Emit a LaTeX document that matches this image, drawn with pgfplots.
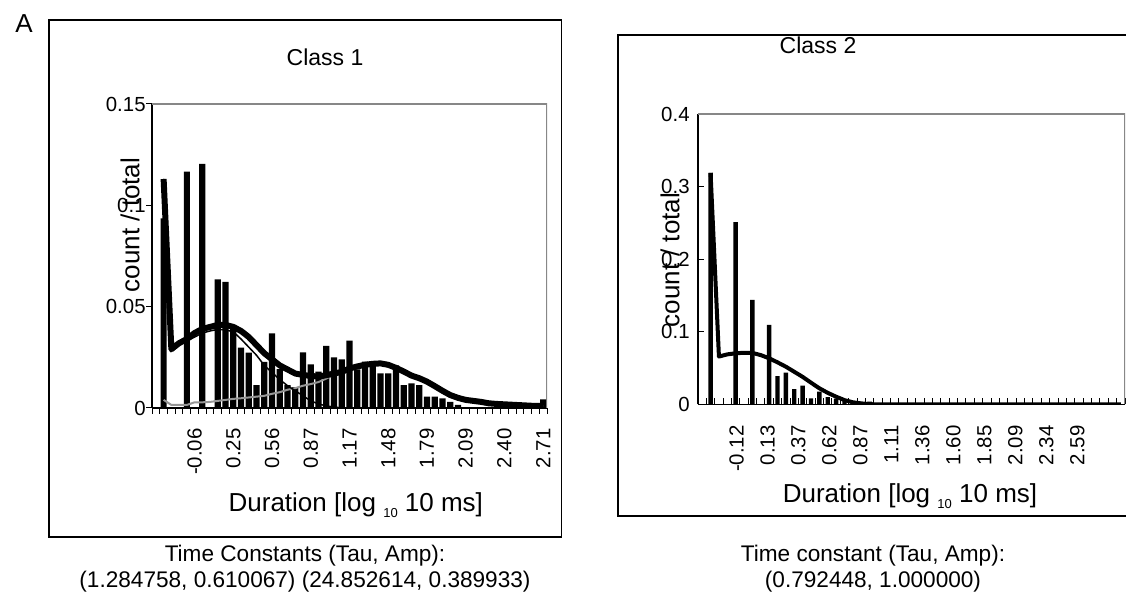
\documentclass[border=0pt]{standalone}
\usepackage{fontspec}
\setmainfont{Liberation Sans}
\usepackage{pgfplots}
\pgfplotsset{compat=1.18}
\definecolor{gline}{RGB}{150,150,150}
\definecolor{gborder}{RGB}{135,135,135}
\newcommand{\ticksz}{\fontsize{10.2}{11}\selectfont}
\newcommand{\labsz}{\fontsize{13}{15}\selectfont}
\newcommand{\capsz}{\fontsize{11.3}{13}\selectfont}
\newcommand{\sub}[1]{\raisebox{-3pt}{\fontsize{6.5}{7}\selectfont #1}}
\begin{document}
\begin{tikzpicture}
\useasboundingbox (0,0) rectangle (563pt,306.5pt);
% outer frames
\draw[line width=0.6pt] (24.5pt,296.5pt) rectangle (280.75pt,38pt);
\draw[line width=0.6pt] (600pt,289pt) -- (309pt,289pt) -- (309pt,48.5pt) -- (600pt,48.5pt);
\node[font=\fontsize{13}{15}\selectfont] at (12pt,294.5pt) {A};

% ---------------- Class 1 ----------------
\begin{axis}[
  anchor=south west, at={(76pt,102.5pt)},
  scale only axis, width=197.5pt, height=152pt,
  xmin=-0.5, xmax=50.5, ymin=0, ymax=0.15,
  axis x line*=bottom, axis y line*=left,
  axis line style={black, line width=0.6pt},
  xtick={5,10,...,50},
  xticklabels={-0.06,0.25,0.56,0.87,1.17,1.48,1.79,2.09,2.40,2.71},
  minor xtick={-0.5,0.5,...,50.5},
  ytick={0,0.05,0.1,0.15},
  yticklabels={0,0.05,0.1,0.15},
  minor ytick={0,0.05,0.1,0.15},
  major tick length=0pt, minor tick length=3pt,
  tick align=outside,
  tick style={black, line width=0.5pt},
  /pgf/number format/assume math mode=true,
  xticklabel style={yshift=-10pt, rotate=90, anchor=east, inner sep=0pt, font=\ticksz},
  yticklabel style={anchor=east, inner sep=0pt, xshift=-3pt, font=\ticksz},
  title={Class 1},
  title style={at={(axis description cs:0.438,1.115)}, anchor=center, font=\fontsize{11.5}{13}\selectfont},
  xlabel={Duration [log \sub{10} 10 ms]},
  xlabel style={at={(axis description cs:0.516,-0.342)}, anchor=base, font=\labsz},
  ylabel={count / total},
  ylabel style={at={(axis description cs:-0.0557,0.602)}, anchor=center, font=\labsz},
]
\draw[gborder, line width=0.8pt] (rel axis cs:0,1) -- (rel axis cs:1,1) -- (rel axis cs:1,0);
\addplot[ybar, bar width=3.1pt, fill=black, draw=none] coordinates {
(1,0.0936) (4,0.1166) (6,0.1204) (8,0.0635) (9,0.0622) (10,0.041) (11,0.0298)
(12,0.0273) (13,0.0113) (14,0.0228) (15,0.0368) (16,0.0192) (17,0.0113) (18,0.0103)
(19,0.0274) (20,0.0215) (21,0.018) (22,0.0307) (23,0.025) (24,0.024) (25,0.0332)
(26,0.019) (27,0.0229) (28,0.0229) (29,0.0171) (30,0.0171) (31,0.021) (32,0.0113)
(33,0.0122) (34,0.0113) (35,0.0056) (36,0.0056) (37,0.0048) (38,0.003) (39,0.0015)
(50,0.0043)};
% second component (grey)
\addplot[gline, line width=1pt] coordinates {
(1,0.004) (2,0.0015) (3,0.0015) (4,0.0015) (5,0.0028) (6,0.0028) (7,0.003) (8,0.0035)
(9,0.004) (10,0.0045) (11,0.0048) (12,0.0052) (13,0.0056) (14,0.006) (15,0.007)
(16,0.0078) (17,0.009) (18,0.0098) (19,0.011) (20,0.0118) (21,0.0128) (22,0.0145)
(23,0.0165) (24,0.0175) (25,0.0192) (26,0.0203) (27,0.0212) (28,0.0217) (29,0.0219)
(30,0.0212) (31,0.0197) (32,0.0179) (33,0.016) (34,0.0146) (35,0.0129) (36,0.0107)
(37,0.0084) (38,0.0063) (39,0.0049) (40,0.0039) (41,0.0034) (42,0.0029) (43,0.0022)
(44,0.0019) (45,0.0017) (46,0.0015) (47,0.0013) (48,0.0011) (49,0.001) (50,0.001)};
% first component (thin black)
\addplot[black, line width=0.75pt] coordinates {
(1,0.113) (2,0.028) (3,0.031) (4,0.033) (5,0.035) (6,0.037) (7,0.038) (8,0.0388)
(9,0.0385) (10,0.0376) (11,0.034) (12,0.030) (13,0.026) (14,0.021) (15,0.0175)
(16,0.014) (17,0.011) (18,0.0085) (19,0.006) (20,0.0035) (21,0.002) (22,0.001)
(23,0.0005) (24,0) (25,0)};
% total fit (thick black)
\addplot[black, line width=3pt, line join=round] coordinates {
(1,0.113) (2,0.029) (3,0.032) (4,0.034) (5,0.037) (6,0.039) (7,0.040) (8,0.041)
(9,0.041) (10,0.040) (11,0.038) (12,0.035) (13,0.031) (14,0.027) (15,0.024)
(16,0.021) (17,0.019) (18,0.017) (19,0.0163) (20,0.0158) (21,0.0155) (22,0.0162)
(23,0.017) (24,0.0178) (25,0.0195) (26,0.0205) (27,0.0213) (28,0.0218) (29,0.022)
(30,0.0213) (31,0.0198) (32,0.018) (33,0.016) (34,0.0147) (35,0.013) (36,0.0108)
(37,0.0085) (38,0.0064) (39,0.005) (40,0.004) (41,0.0035) (42,0.003) (43,0.0023)
(44,0.002) (45,0.0018) (46,0.0016) (47,0.0014) (48,0.0012) (49,0.001) (50,0.001)};
\end{axis}

% ---------------- Class 2 ----------------
\begin{axis}[
  anchor=south west, at={(349pt,104.25pt)},
  scale only axis, width=213.5pt, height=145.25pt,
  xmin=-0.5, xmax=50.5, ymin=0, ymax=0.4,
  axis x line*=bottom, axis y line*=left,
  axis line style={black, line width=0.6pt},
  xtick={4.1,7.8,11.5,15.2,18.9,22.6,26.3,30.0,33.7,37.4,41.1,44.8},
  xticklabels={-0.12,0.13,0.37,0.62,0.87,1.11,1.36,1.60,1.85,2.09,2.34,2.59},
  minor xtick={-0.5,0.5,...,50.5},
  ytick={0,0.1,0.2,0.3,0.4},
  yticklabels={0,0.1,0.2,0.3,0.4},
  minor ytick={0,0.1,0.2,0.3,0.4},
  major tick length=0pt, minor tick length=3pt,
  tick align=inside,
  tick style={black, line width=0.5pt},
  /pgf/number format/assume math mode=true,
  xticklabel style={yshift=-10.25pt, rotate=90, anchor=east, inner sep=0pt, font=\ticksz},
  yticklabel style={anchor=east, inner sep=0pt, xshift=-4pt, font=\ticksz},
  title={Class 2},
  title style={at={(axis description cs:0.281,1.196)}, anchor=center, font=\fontsize{11.5}{13}\selectfont},
  xlabel={Duration [log \sub{10} 10 ms]},
  xlabel style={at={(axis description cs:0.4965,-0.337)}, anchor=base, font=\labsz},
  ylabel={count / total},
  ylabel style={at={(axis description cs:-0.0656,0.497)}, anchor=center, font=\labsz},
]
\draw[gborder, line width=0.8pt] (rel axis cs:0,1) -- (rel axis cs:1,1) -- (rel axis cs:1,0);
\addplot[ybar, bar width=2.2pt, fill=black, draw=none] coordinates {
(1,0.319) (4,0.251) (6,0.144) (8,0.1095) (9,0.039) (10,0.0438) (11,0.021) (12,0.026)
(13,0.0085) (14,0.0176) (15,0.010) (16,0.008) (17,0.005) (18,0.003) (20,0.004)};
\addplot[black, line width=2pt, line join=round] coordinates {
(1,0.319) (2,0.066) (3,0.069) (4,0.0705) (5,0.0712) (6,0.071) (7,0.068) (8,0.0636)
(9,0.058) (10,0.052) (11,0.045) (12,0.038) (13,0.030) (14,0.0223) (15,0.016)
(16,0.0107) (17,0.006) (18,0.003) (19,0.0015) (20,0.0005) (21,0) (22,0) (23,0)
(24,0) (25,0) (26,0) (27,0) (28,0) (29,0) (30,0) (31,0) (32,0) (33,0) (34,0) (35,0)
(36,0) (37,0) (38,0) (39,0) (40,0) (41,0) (42,0) (43,0) (44,0) (45,0) (46,0) (47,0)
(48,0) (49,0) (50,0)};
\end{axis}

% captions
\node[font=\capsz] at (152.5pt,28.5pt) {Time Constants (Tau, Amp):};
\node[font=\capsz] at (152.5pt,15.5pt) {(1.284758, 0.610067) (24.852614, 0.389933)};
\node[font=\capsz] at (436.5pt,28.5pt) {Time constant (Tau, Amp):};
\node[font=\capsz] at (436.5pt,15.5pt) {(0.792448, 1.000000)};
\end{tikzpicture}
\end{document}
